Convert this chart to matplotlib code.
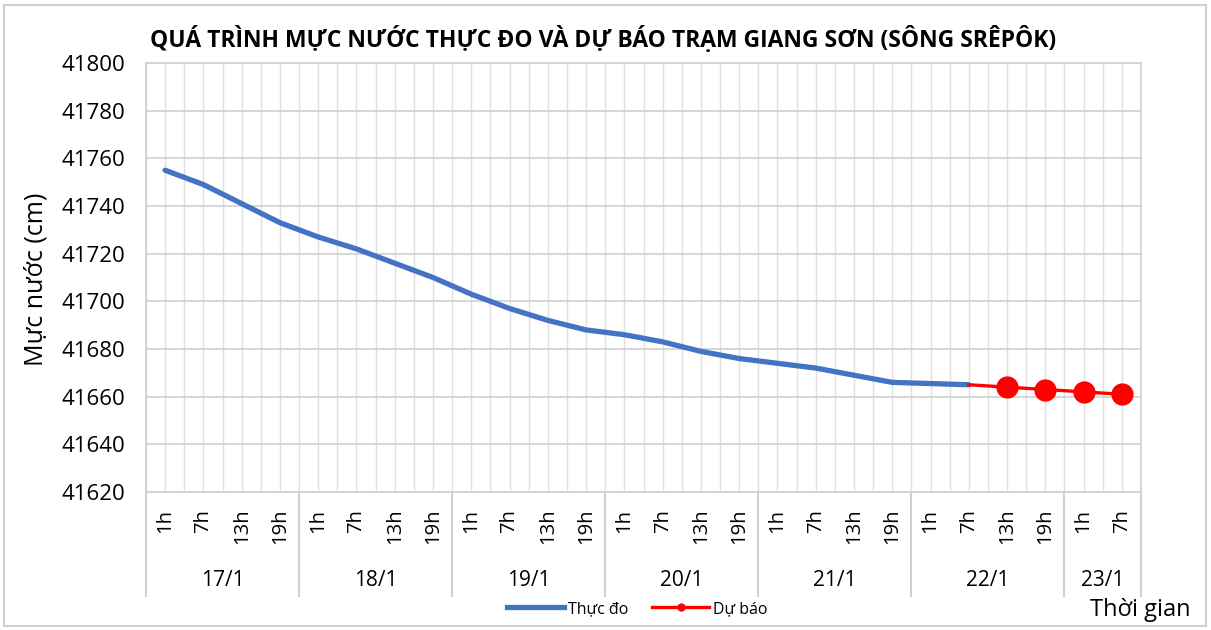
import matplotlib
matplotlib.use("Agg")
import matplotlib.pyplot as plt
from matplotlib.lines import Line2D
from matplotlib.patches import Rectangle

plt.rcParams['font.family'] = ['Open Sans', 'DejaVu Sans']

# ---- data ----
days = ["17/1", "18/1", "19/1", "20/1", "21/1", "22/1", "23/1"]
hours_per_day = [["1h", "7h", "13h", "19h"]] * 6 + [["1h", "7h"]]
hour_labels = [h for hs in hours_per_day for h in hs]

measured = [41755, 41749, 41741, 41733, 41727, 41722, 41716, 41710, 41703,
            41697, 41692, 41688, 41686, 41683, 41679, 41676, 41674, 41672,
            41669, 41666, 41665.5, 41665]
forecast = [41665, 41664, 41663, 41662, 41661]   # starts at last measured point

title = "QUÁ TRÌNH MỰC NƯỚC THỰC ĐO VÀ DỰ BÁO TRẠM GIANG SƠN (SÔNG SRÊPÔK)"
ylabel = "Mực nước (cm)"
xlabel = "Thời gian"
series_names = ["Thực đo", "Dự báo"]
yticks = list(range(41620, 41801, 20))

# ---- figure ----
W, H = 1211, 630
fig = plt.figure(figsize=(W / 100, H / 100), dpi=100)
fig.patches.append(Rectangle((4 / W, 4 / H), 1 - 9 / W, 1 - 9 / H,
                             transform=fig.transFigure, fill=False,
                             edgecolor="#d0d0d0", linewidth=1.5))

L, R, T, B = 146, 1141, 63, 492
ax = fig.add_axes([L / W, 1 - B / H, (R - L) / W, (B - T) / H])

n = len(hour_labels)
x_meas = list(range(len(measured)))
x_fc = list(range(len(measured) - 1, len(measured) - 1 + len(forecast)))

ax.plot(x_meas, measured, color="#4472C4", linewidth=3.8,
        solid_capstyle="round", solid_joinstyle="round", zorder=3)
ax.plot(x_fc, forecast, color="#FF0000", linewidth=2.4, marker="o",
        markersize=15, markevery=list(range(1, len(forecast))), zorder=4)

ax.set_xlim(-0.5, n - 0.5)
ax.set_ylim(yticks[0], yticks[-1])
ax.set_yticks(yticks)
ax.set_xticks(range(n))
ax.set_xticklabels(hour_labels, rotation=90, fontsize=14.5)
ax.set_xticks([i - 0.5 for i in range(n + 1)], minor=True)
ax.tick_params(axis="y", labelsize=16, length=0, pad=15)
ax.tick_params(axis="x", which="both", length=0, pad=12)

ax.grid(axis="y", which="major", color="#d0d0d0", linewidth=1.2)
ax.grid(axis="x", which="both", color="#e0e0e0", linewidth=1.0)
ax.set_axisbelow(True)
for s in ax.spines.values():
    s.set_color("#d0d0d0")
    s.set_linewidth(1.2)

# day group labels and separators
trans = ax.get_xaxis_transform()
sep_bottom = -(596 - B) / (B - T)
day_y = -(581 - B) / (B - T)
start = -0.5
for d, hs in zip(days, hours_per_day):
    end = start + len(hs)
    ax.add_line(Line2D([start, start], [0, sep_bottom], transform=trans,
                       color="#d0d0d0", linewidth=1.5, clip_on=False))
    ax.text((start + end) / 2, day_y, d, transform=trans, ha="center",
            va="center", fontsize=15)
    start = end
ax.add_line(Line2D([start, start], [0, sep_bottom], transform=trans,
                   color="#d0d0d0", linewidth=1.5, clip_on=False))

# texts
fig.text(603 / W, 1 - 40 / H, title, ha="center", va="center",
         fontsize=16.5, fontweight="bold")
fig.text(36 / W, 1 - 279 / H, ylabel, rotation=90, ha="center", va="center",
         fontsize=18)
fig.text(1140 / W, 1 - 610 / H, xlabel, ha="center", va="center", fontsize=17)

handles = [Line2D([], [], color="#4472C4", linewidth=3.8),
           Line2D([], [], color="#FF0000", linewidth=2.4, marker="o",
                  markersize=5)]
fig.legend(handles, series_names, loc="center", bbox_to_anchor=(637 / W, 1 - 609 / H),
           ncol=2, frameon=False, fontsize=11.5, handlelength=3.6,
           handletextpad=0.2, columnspacing=1.5)

fig.savefig("out.png", dpi=100)
